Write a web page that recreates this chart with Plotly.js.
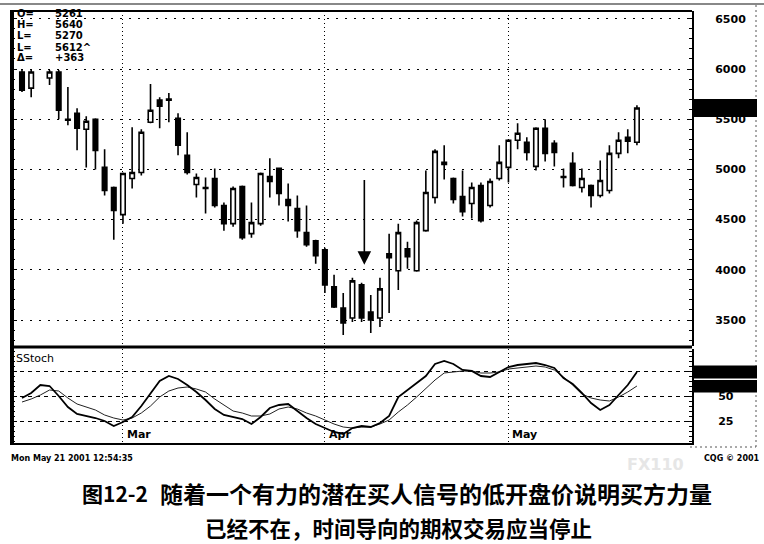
<!DOCTYPE html>
<html>
<head>
<meta charset="utf-8">
<script src="https://cdn.plot.ly/plotly-3.0.1.min.js"></script>
<style>
  html, body { margin: 0; padding: 0; background: #fff; }
  #chart { width: 764px; height: 544px; }
</style>
</head>
<body>
<div id="chart"></div>
<script>
// ---------------- DATA ----------------
// trading-day index (Feb 13 2001 = 0 ... May 21 2001 = 67); index 2 not visible
const candleIdx = [0,1,3,4,5,6,7,8,9,10,11,12,13,14,15,16,17,18,19,20,21,22,23,24,25,26,27,28,29,30,31,32,33,34,35,36,37,38,39,40,41,42,43,44,45,46,47,48,49,50,51,52,53,54,55,56,57,58,59,60,61,62,63,64,65,66,67];
const openP  = [5970,5810,5910,5970,5500,5560,5400,5500,5020,4820,4550,4910,4970,5470,5690,5700,5510,5140,4850,4820,4910,4640,4460,4830,4360,4460,4930,5010,4700,4610,4370,4290,4200,3830,3620,3520,3850,3580,3520,4160,3990,4210,3990,4390,4720,5070,4910,4730,4660,4840,4640,4910,5020,5290,5270,5030,5410,5260,4930,5060,4820,4840,4740,4790,5160,5320,5270];
const highP  = [5990,5990,5990,5990,5820,5610,5530,5510,5200,4830,4970,5420,5400,5850,5720,5760,5560,5370,4960,4920,5010,4670,4830,4840,4670,4970,5110,5020,4860,4740,4640,4300,4220,3950,3770,3920,3870,3750,3920,4360,4460,4280,4490,4990,5200,5240,4920,4990,4870,4870,4910,5240,5300,5460,5320,5420,5500,5290,5010,5170,5010,4850,5090,5240,5370,5400,5640];
const lowP   = [5770,5720,5840,5500,5440,5190,5020,5000,4740,4300,4460,4810,4940,5460,5410,5470,5140,4950,4720,4560,4620,4390,4430,4300,4320,4440,4720,4640,4480,4320,4230,4060,3770,3620,3350,3480,3480,3370,3430,3570,3800,4010,3980,4380,4660,4900,4660,4530,4510,4470,4620,4890,4870,5200,5090,4990,5080,5030,4820,4830,4770,4620,4720,4760,5110,5160,5240];
const closeP = [5790,5970,5970,5590,5490,5410,5480,5190,4790,4590,4960,4970,5370,5590,5630,5690,5240,4970,4920,4810,4640,4460,4810,4320,4470,4960,4880,4760,4640,4390,4250,4140,3850,3630,3470,3890,3520,3500,3810,4120,4370,4130,4470,4770,5180,5050,4700,4580,4820,4490,4880,5070,5290,5360,5170,5410,5160,5170,4920,4840,4910,4740,4890,5160,5290,5280,5612];

const stochIdx = [0,1,2,3,4,5,6,7,8,9,10,11,12,13,14,15,16,17,18,19,20,21,22,23,24,25,26,27,28,29,30,31,32,33,34,35,36,37,38,39,40,41,42,43,44,45,46,47,48,49,50,51,52,53,54,55,56,57,58,59,60,61,62,63,64,65,66,67];
const stochK = [48,53,61,60,50,39,32,30,28,25,20,24,29,40,52,65,70,67,61,54,46,37,31,29,27,22,29,38,41,42,35,28,22,18,14,12,18,20,19,23,30,49,56,63,70,82,85,82,76,75,70,69,74,79,81,82,83,81,78,68,62,53,43,36,41,51,61,74];
const stochD = [44,47,51,56,55,48,42,39,36,31,28,26,28,33,40,49,55,58,59,57,54,47,41,35,33,30,30,32,37,39,37,33,30,26,22,19,18,19,19,22,26,34,41,49,58,66,73,74,75,75,73,73,74,77,78,79,80,79,76,69,61,52,48,46,45,49,54,60];

const monthIdx = [11,33,53];
const monthLabels = ['Mar','Apr','May'];
const weekIdx = [0,4,8,13,18,23,28,33,38,42,47,52,57,62,67];

const priceTicks = [3500,4000,4500,5000,5500,6000,6500];
const stochTicks = [25,50,75];
const stochTickText = ['25','50','75'];

const ohlcNames  = ['O=','H=','L=','L=','Δ='];
const ohlcValues = ['5261','5640','5270','5612^','+363'];

const arrowIdx = 37.3, arrowTip = 4050, arrowTail = 4910;

const captionNum  = '图12-2';
const captionL1   = '随着一个有力的潜在买人信号的低开盘价说明买方力量';
const captionL2   = '已经不在，时间导向的期权交易应当停止';
const stampText   = 'Mon May 21 2001 12:54:35';
const copyText    = 'CQG © 2001';
const watermark   = 'FX110';

// ---------------- LAYOUT HELPERS (pixel -> paper) ----------------
const L = 12, R = 692, T = 11, B = 443;
const px = x => (x - L) / (R - L);
const py = y => (B - y) / (B - T);

const lastClose = closeP[closeP.length - 1];
const lastK = stochK[stochK.length - 1];
const lastD = stochD[stochD.length - 1];

const numFont = {family: 'DejaVu Sans', size: 11, color: '#000', weight: 'bold'};

const traces = [
  {
    type: 'candlestick', x: candleIdx, open: openP, high: highP, low: lowP, close: closeP,
    xaxis: 'x', yaxis: 'y', whiskerwidth: 0, hoverinfo: 'skip',
    increasing: {line: {color: '#000', width: 1.6}, fillcolor: '#fff'},
    decreasing: {line: {color: '#000', width: 1.6}, fillcolor: '#000'}
  },
  {
    type: 'scatter', mode: 'lines', x: stochIdx, y: stochD, xaxis: 'x2', yaxis: 'y2',
    line: {color: '#222', width: 1}, hoverinfo: 'skip'
  },
  {
    type: 'scatter', mode: 'lines', x: stochIdx, y: stochK, xaxis: 'x2', yaxis: 'y2',
    line: {color: '#000', width: 1.8}, hoverinfo: 'skip'
  }
];

const xr = [-1.09, 73];
const layout = {
  width: 764, height: 544,
  paper_bgcolor: '#fff', plot_bgcolor: '#fff',
  margin: {l: L, r: 764 - R, t: T, b: 544 - B},
  showlegend: false,
  xaxis: {
    anchor: 'y', domain: [0, 1], range: xr, tickmode: 'array', tickvals: monthIdx,
    showticklabels: false, ticks: '', showgrid: true, gridcolor: '#000', gridwidth: 1,
    griddash: '1px,3px', zeroline: false, rangeslider: {visible: false}, showline: false
  },
  xaxis2: {
    anchor: 'y2', domain: [0, 1], range: xr, tickmode: 'array', tickvals: monthIdx,
    showticklabels: false, ticks: '', showgrid: true, gridcolor: '#000', gridwidth: 1,
    griddash: '1px,3px', zeroline: false, showline: true, linecolor: '#000', linewidth: 2
  },
  xaxis3: {
    overlaying: 'x2', anchor: 'y2', range: xr, tickmode: 'array', tickvals: weekIdx,
    showticklabels: false, ticks: 'outside', ticklen: 4, tickwidth: 1, tickcolor: '#000',
    showgrid: false, zeroline: false, showline: false
  },
  yaxis: {
    anchor: 'x', domain: [py(346), 1], range: [3241, 6578], side: 'right',
    tickmode: 'array', tickvals: priceTicks, ticks: 'inside', ticklen: 5, tickcolor: '#000',
    showgrid: true, gridcolor: '#000', gridwidth: 1, griddash: '2px,7px',
    showline: true, linecolor: '#000', linewidth: 2, zeroline: false, mirror: 'ticks',
    ticklabelstandoff: 19, tickfont: numFont,
    minor: {dtick: 100, ticks: 'inside', ticklen: 3, tickcolor: '#000', showgrid: false}
  },
  yaxis2: {
    anchor: 'x2', domain: [0, py(349)], range: [3, 97], side: 'right',
    tickmode: 'array', tickvals: stochTicks, ticktext: stochTickText, ticks: 'inside',
    ticklen: 5, tickcolor: '#000', showgrid: true, gridcolor: '#000', gridwidth: 1,
    griddash: '4px,4px', showline: true, linecolor: '#000', linewidth: 2, zeroline: false,
    mirror: 'ticks', ticklabelstandoff: 22, tickfont: numFont,
    minor: {dtick: 5, ticks: 'inside', ticklen: 3, tickcolor: '#000', showgrid: false}
  },
  shapes: [
    {type: 'line', xref: 'paper', yref: 'paper', x0: px(0), x1: px(764), y0: py(4), y1: py(4), line: {color: '#888', width: 2}},
    {type: 'line', xref: 'paper', yref: 'paper', x0: px(10), x1: px(692), y0: 1, y1: 1, line: {color: '#000', width: 2}},
    {type: 'line', xref: 'paper', yref: 'paper', x0: px(10), x1: px(692), y0: py(347), y1: py(347), line: {color: '#000', width: 3}},
    {type: 'line', xref: 'paper', yref: 'paper', x0: px(12), x1: px(12), y0: py(443), y1: 1, line: {color: '#000', width: 4}},
    {type: 'line', xref: 'paper', yref: 'paper', x0: px(756), x1: px(756), y0: py(447), y1: py(4), line: {color: '#555', width: 1, dash: '2px,3px'}},
    {type: 'line', xref: 'paper', yref: 'paper', x0: px(690), x1: px(756), y0: py(447), y1: py(447), line: {color: '#555', width: 1, dash: '2px,3px'}},
    {type: 'rect', xref: 'paper', yref: 'y', x0: 1, x1: px(757), y0: lastClose - 90, y1: lastClose + 90, fillcolor: '#000', line: {width: 0}, layer: 'above'},
    {type: 'rect', xref: 'paper', yref: 'y2', x0: 1, x1: px(757), y0: lastK - 6.5, y1: lastK + 6.5, fillcolor: '#000', line: {width: 0}, layer: 'above'},
    {type: 'rect', xref: 'paper', yref: 'y2', x0: 1, x1: px(757), y0: lastD - 6.5, y1: lastD + 6, fillcolor: '#000', line: {width: 0}, layer: 'above'}
  ],
  annotations: []
};

const ann = layout.annotations;
const rowsY = [14, 24.5, 36, 47, 58];
ohlcNames.forEach((t, i) => {
  ann.push({xref: 'paper', yref: 'paper', x: px(15), y: py(rowsY[i]), xanchor: 'left', yanchor: 'middle', text: t, showarrow: false, font: {family: 'DejaVu Sans', size: 10, color: '#000', weight: 'bold'}});
  ann.push({xref: 'paper', yref: 'paper', x: px(53), y: py(rowsY[i]), xanchor: 'left', yanchor: 'middle', text: ohlcValues[i], showarrow: false, font: {family: 'DejaVu Sans', size: 10, color: '#000', weight: 'bold'}});
});
ann.push({xref: 'paper', yref: 'y2 domain', x: px(14), y: 1, xanchor: 'left', yanchor: 'top', yshift: -1, text: 'SStoch', showarrow: false, font: {family: 'DejaVu Sans', size: 11, color: '#000'}});
monthIdx.forEach((m, i) => {
  ann.push({xref: 'x2', yref: 'y2 domain', x: m, y: 0, xanchor: 'left', yanchor: 'bottom', xshift: 2, text: monthLabels[i], showarrow: false, font: {family: 'DejaVu Sans', size: 11, color: '#000', weight: 'bold'}});
});
ann.push({xref: 'x', yref: 'y', x: arrowIdx, y: arrowTip, axref: 'x', ayref: 'y', ax: arrowIdx, ay: arrowTail, text: '', showarrow: true, arrowhead: 2, arrowsize: 1.7, arrowwidth: 1.6, arrowcolor: '#000'});
ann.push({xref: 'paper', yref: 'paper', x: px(9), y: py(458), xanchor: 'left', yanchor: 'middle', text: stampText, showarrow: false, font: {family: 'DejaVu Sans', size: 8, color: '#000', weight: 'bold'}});
ann.push({xref: 'paper', yref: 'paper', x: px(762), y: py(458), xanchor: 'right', yanchor: 'middle', text: copyText, showarrow: false, font: {family: 'DejaVu Sans', size: 8, color: '#000', weight: 'bold'}});
ann.push({xref: 'paper', yref: 'paper', x: px(655), y: py(464), xanchor: 'center', yanchor: 'middle', text: watermark, showarrow: false, font: {family: 'DejaVu Sans', size: 16, color: '#e6e6e6', weight: 'bold'}});
ann.push({xref: 'paper', yref: 'paper', x: px(80), y: py(493), xanchor: 'left', yanchor: 'middle', text: captionNum, showarrow: false, font: {family: 'Noto Sans CJK SC', size: 21, color: '#000', weight: 'bold'}});
ann.push({xref: 'paper', yref: 'paper', x: px(714), y: py(493), xanchor: 'right', yanchor: 'middle', text: captionL1, showarrow: false, font: {family: 'Noto Sans CJK SC', size: 23, color: '#000', weight: 'bold'}});
ann.push({xref: 'paper', yref: 'paper', x: px(398), y: py(527), xanchor: 'center', yanchor: 'middle', text: captionL2, showarrow: false, font: {family: 'Noto Sans CJK SC', size: 21.5, color: '#000', weight: 'bold'}});

Plotly.newPlot('chart', traces, layout, {staticPlot: true, displayModeBar: false});
</script>
</body>
</html>
